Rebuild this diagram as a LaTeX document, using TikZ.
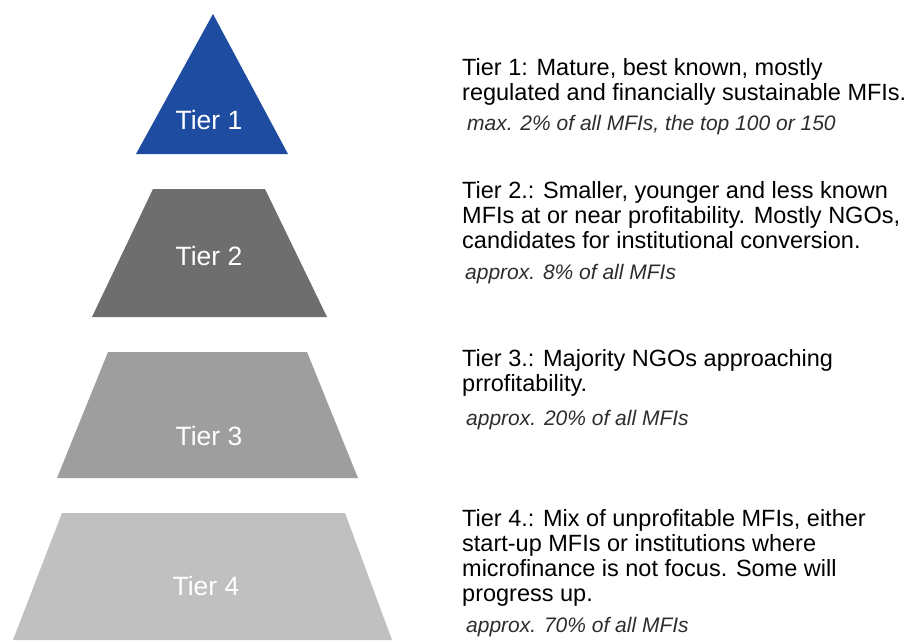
\documentclass[tikz,border=0pt]{standalone}
\usepackage{fontspec}
\setmainfont{Liberation Sans}
\definecolor{tierone}{RGB}{30,76,160}
\definecolor{tiertwo}{RGB}{110,110,110}
\definecolor{tierthree}{RGB}{158,158,158}
\definecolor{tierfour}{RGB}{192,192,192}
\definecolor{notegray}{RGB}{45,45,45}
\newcommand{\desclines}[1]{\begin{tabular}[t]{@{}l@{}}#1\end{tabular}}
\tikzset{
  tierlabel/.style={anchor=base, inner sep=0pt, text=white, font=\fontsize{26.5}{30}\selectfont},
  desc/.style={anchor=base west, inner sep=0pt, text=black, font=\fontsize{23.5}{25.3}\selectfont},
  note/.style={anchor=base west, inner sep=0pt, text=notegray, font=\fontsize{21}{24}\selectfont\itshape},
}
\begin{document}
\begin{tikzpicture}[x=1pt,y=-1pt]
\useasboundingbox (0,0) rectangle (905,640);
\fill[white] (0,0) rectangle (905,640);
% pyramid pieces
\fill[tierone] (213,14) -- (288,154) -- (136,154) -- cycle;
\fill[tiertwo] (153,189) -- (265,189) -- (327,317) -- (92,317) -- cycle;
\fill[tierthree] (108,352) -- (307,352) -- (358,478) -- (57,478) -- cycle;
\fill[tierfour] (62,513) -- (345,513) -- (392,640) -- (13,640) -- cycle;
% labels
\node[tierlabel] (l1) at (209,129) {Tier 1};
\node[tierlabel] (l2) at (209,265) {Tier 2};
\node[tierlabel] (l3) at (209,445) {Tier 3};
\node[tierlabel] (l4) at (206,595) {Tier 4};
% descriptions
\node[desc] (d1) at (462,75) {\desclines{Tier 1: Mature, best known, mostly\\regulated and financially sustainable MFIs.}};
\node[note] (n1) at (467,130) {max. 2\% of all MFIs, the top 100 or 150};
\node[desc] (d2) at (462,198) {\desclines{Tier 2.: Smaller, younger and less known\\MFIs at or near profitability. Mostly NGOs,\\candidates for institutional conversion.}};
\node[note] (n2) at (465,279) {approx. 8\% of all MFIs};
\node[desc] (d3) at (462,366) {\desclines{Tier 3.: Majority NGOs approaching\\prrofitability.}};
\node[note] (n3) at (466,425) {approx. 20\% of all MFIs};
\node[desc] (d4) at (462,526) {\desclines{Tier 4.: Mix of unprofitable MFIs, either\\start-up MFIs or institutions where\\microfinance is not focus. Some will\\progress up.}};
\node[note] (n4) at (466,632) {approx. 70\% of all MFIs};
\end{tikzpicture}
\end{document}
